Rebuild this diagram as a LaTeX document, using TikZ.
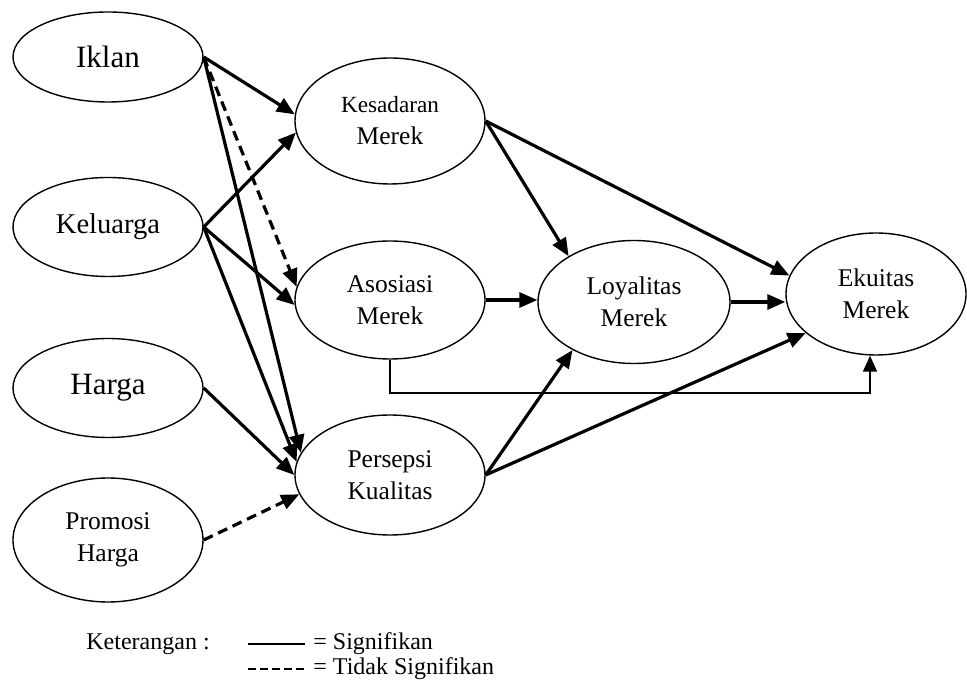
\documentclass[tikz,border=0pt]{standalone}
\usepackage{fontspec}
\setmainfont{Liberation Serif}
\usepackage{tikz}
\usetikzlibrary{arrows.meta,positioning,shapes.geometric}

\begin{document}
\begin{tikzpicture}[
  x=0.5pt, y=-0.5pt,
  var/.style={draw, ellipse, line width=0.7pt, inner sep=0pt, minimum width=95pt, align=center, font=\fontsize{12.75}{16}\selectfont},
  bigtext/.style={font=\fontsize{15.5}{18}\selectfont},
  arr/.style={-{Triangle[length=9pt,width=7.5pt]}, line width=1.6pt},
  dasharr/.style={arr, dash pattern=on 5pt off 3pt},
  thinarr/.style={-{Triangle[length=8pt,width=7pt]}, line width=0.8pt},
  legend/.style={anchor=west, inner sep=0pt, font=\fontsize{12}{14}\selectfont}
]
\useasboundingbox (0,0) rectangle (967,688);

% Exogenous variables (left column)
\node[var, bigtext, minimum height=45pt] (iklan) at (108,57) {Iklan};
\node[var, font=\fontsize{14.3}{17}\selectfont, minimum height=49.5pt] (keluarga) at (108,227) {Keluarga};
\node[var, bigtext, minimum height=49.5pt] (harga) at (108,388) {Harga};
\node[var, minimum height=62pt] (promosi) at (108,540) {Promosi\\Harga};

% Brand equity dimensions (middle column)
\node[var, minimum height=63pt] (kes) at (390,121) {{\fontsize{11.6}{16}\selectfont Kesadaran}\\Merek};
\node[var, minimum height=59pt] (aso) at (390,300) {Asosiasi\\Merek};
\node[var, minimum height=60pt] (pers) at (390,475) {Persepsi\\Kualitas};

% Loyalty and equity (right)
\node[var, minimum width=96pt, minimum height=61.5pt] (loy) at (634,302) {Loyalitas\\Merek};
\node[var, minimum width=90pt, minimum height=61pt] (eku) at (876,294) {Ekuitas\\Merek};

% Arrows into Kesadaran Merek
\foreach \n/\a in {iklan/176, keluarga/187} {
  \draw[arr] (\n.east) -- (kes.\a);
}

% Arrows into Asosiasi Merek
\draw[dasharr] (iklan.east) -- (aso.172);
\draw[arr] (keluarga.east) -- (aso.183);

% Arrows into Persepsi Kualitas
\foreach \n/\a in {iklan/166, keluarga/172, harga/180} {
  \draw[arr] (\n.east) -- (pers.\a);
}
\draw[dasharr] (promosi.east) -- (pers.192);

% Arrows into Loyalitas and Ekuitas Merek
\draw[arr] (kes.east) -- (loy.145);
\draw[arr] (kes.east) -- (eku.168);
\draw[arr] (aso.east) -- (aso.east -| loy.west);
\draw[arr] (pers.east) -- (loy.218);
\draw[arr] (pers.east) -- (eku.209);
\draw[arr] (loy.east) -- (eku.west |- loy.east);

% Asosiasi direct to Ekuitas (bypass line)
\coordinate (bypass) at (630,393);
\draw[thinarr] (aso.south) |- (bypass) -| ([xshift=-3pt]eku.south);

% Legend
\node[legend] (ket) at (86,644) {Keterangan :};
\node[legend] (sig) at (313,644) {= Signifikan};
\node[legend] (tsig) at (313,669) {= Tidak Signifikan};
\coordinate (sigA) at (248,644);
\coordinate (tsigA) at (248,669);
\draw[line width=0.65pt] (sigA) -- ([xshift=-4pt]sig.west);
\draw[line width=1.2pt, dash pattern=on 4pt off 2pt] (tsigA) -- ([xshift=-4pt]tsig.west);

\end{tikzpicture}
\end{document}
